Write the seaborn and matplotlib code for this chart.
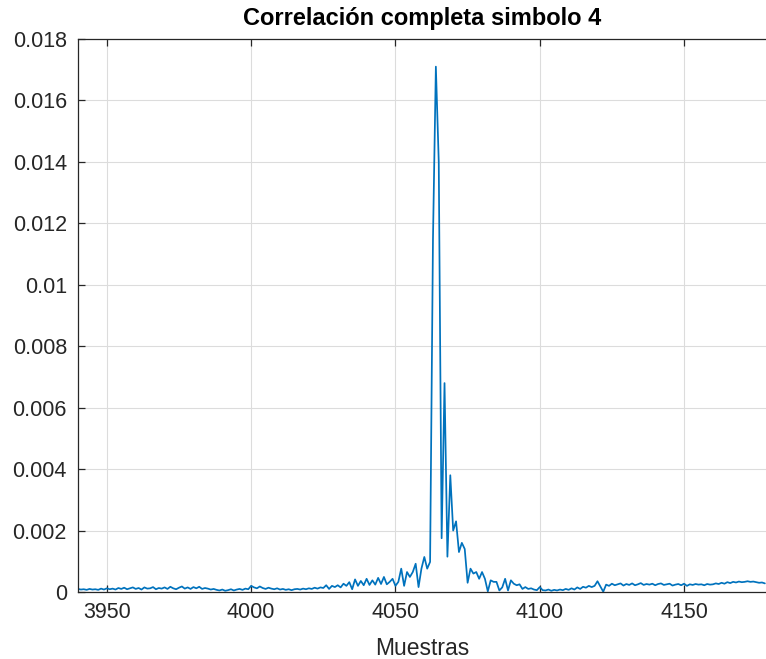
import numpy as np
import pandas as pd
import matplotlib
matplotlib.use("Agg")
import matplotlib.pyplot as plt
import seaborn as sns

# ---- data ----
start_sample = 3940
# correlation magnitude, in units of 1e-4
corr_e4 = [
    1.0, 0.8, 0.9, 0.7, 1.0, 0.8, 0.9, 0.7, 1.1, 0.8,   # 3940
    1.2, 0.9, 1.1, 0.8, 1.3, 1.0, 1.4, 0.9, 1.2, 1.5,   # 3950
    1.0, 1.3, 0.8, 1.5, 1.1, 1.2, 1.6, 0.9, 1.3, 1.1,   # 3960
    1.5, 1.0, 1.7, 1.2, 0.9, 1.4, 1.8, 1.1, 1.5, 1.0,   # 3970
    1.6, 1.2, 1.7, 1.0, 1.3, 1.1, 0.8, 1.0, 0.7, 0.5,   # 3980
    0.8, 0.4, 0.6, 0.9, 0.5, 0.8, 1.0, 0.7, 1.1, 0.9,   # 3990
    2.0, 1.5, 1.2, 1.8, 1.3, 1.0, 1.4, 1.1, 0.9, 1.2,   # 4000
    0.8, 1.0, 0.7, 0.9, 0.6, 0.9, 1.0, 0.8, 1.1, 0.9,   # 4010
    1.2, 1.0, 1.4, 1.1, 1.5, 1.3, 2.2, 1.0, 2.0, 1.6,   # 4020
    2.2, 1.5, 2.7, 2.0, 3.2, 0.9, 4.1, 2.0, 3.6, 2.2,   # 4030
    4.3, 2.3, 3.8, 2.4, 4.6, 2.6, 4.9, 2.5, 3.3, 4.3,   # 4040
    2.0, 3.3, 7.6, 2.0, 6.5, 4.9, 6.5, 9.2, 1.6, 7.6,   # 4050
    11.4, 7.6, 9.8, 115.0, 171.0, 140.0, 17.5, 68.0, 11.5, 38.0,  # 4060
    20.0, 23.0, 13.0, 16.0, 14.0, 3.0, 7.6, 6.0, 6.5, 4.3,  # 4070
    6.5, 4.3, 0.2, 3.8, 3.3, 3.3, 0.5, 1.5, 4.3, 0.5,   # 4080
    3.8, 2.7, 2.2, 2.5, 1.0, 1.6, 1.0, 1.2, 0.8, 0.6,   # 4090
    1.6, 0.6, 0.5, 0.8, 0.4, 0.7, 0.5, 0.8, 0.6, 1.0,   # 4100
    0.7, 1.2, 0.8, 1.5, 1.0, 1.7, 1.4, 2.0, 1.6, 2.0,   # 4110
    3.5, 1.8, 0.1, 2.4, 2.0, 2.7, 2.2, 2.5, 2.8, 2.1,   # 4120
    2.6, 2.3, 2.8, 2.2, 2.5, 2.9, 2.3, 2.6, 2.4, 2.7,   # 4130
    2.2, 2.6, 2.8, 2.3, 2.5, 2.7, 2.1, 2.4, 2.6, 2.2,   # 4140
    2.7, 2.0, 2.5, 2.3, 2.6, 2.4, 2.5, 2.2, 2.6, 2.4,   # 4150
    2.5, 2.8, 2.6, 3.0, 2.7, 3.2, 2.9, 3.3, 3.1, 3.4,   # 4160
    3.2, 3.3, 3.5, 3.3, 3.4, 3.2, 3.0, 3.1, 2.8,        # 4170
]
x_ticks = [3950, 4000, 4050, 4100, 4150]
y_ticks = [0, 0.002, 0.004, 0.006, 0.008, 0.01, 0.012, 0.014, 0.016, 0.018]
y_tick_labels = ["0", "0.002", "0.004", "0.006", "0.008", "0.01",
                 "0.012", "0.014", "0.016", "0.018"]
title_text = "Correlación completa simbolo 4"
x_label = "Muestras"

samples = list(range(start_sample, start_sample + len(corr_e4)))
df = pd.DataFrame({"Muestras": samples, "corr": np.array(corr_e4) * 1e-4})

# ---- style ----
sns.set_style("ticks")
plt.rcParams["font.family"] = ["Liberation Sans", "DejaVu Sans"]

W, H = 766, 659
fig = plt.figure(figsize=(W / 100, H / 100), dpi=100)
left, right, top, bottom = 78, 766, 39, 592
ax = fig.add_axes([left / W, 1 - bottom / H, (right - left) / W, (bottom - top) / H])

sns.lineplot(data=df, x="Muestras", y="corr", ax=ax, color="#0072BD",
             linewidth=1.25, estimator=None, errorbar=None)

ax.set_xlim(3940, 3940 + (right - left) / 2.886)
ax.set_ylim(0, 0.018)
ax.set_xticks(x_ticks)
ax.set_xticklabels([str(t) for t in x_ticks])
ax.set_yticks(y_ticks)
ax.set_yticklabels(y_tick_labels)

ax.grid(True, color="#DCDCDC", linewidth=0.8)
ax.set_axisbelow(True)
axis_col = "#262626"
for side in ["left", "bottom", "top"]:
    ax.spines[side].set_visible(True)
    ax.spines[side].set_color(axis_col)
    ax.spines[side].set_linewidth(0.9)
ax.spines["right"].set_visible(False)

ax.tick_params(axis="both", direction="in", length=5, width=0.9,
               color=axis_col, labelcolor=axis_col, labelsize=15.5,
               top=True, right=False)
ax.tick_params(axis="x", pad=7)
ax.tick_params(axis="y", pad=8)

ax.set_xlabel(x_label, fontsize=16.5, color=axis_col, labelpad=10)
ax.set_ylabel("")
ax.set_title(title_text, fontsize=17, fontweight="bold", color="black", pad=10)

fig.savefig("out.png", dpi=100)
